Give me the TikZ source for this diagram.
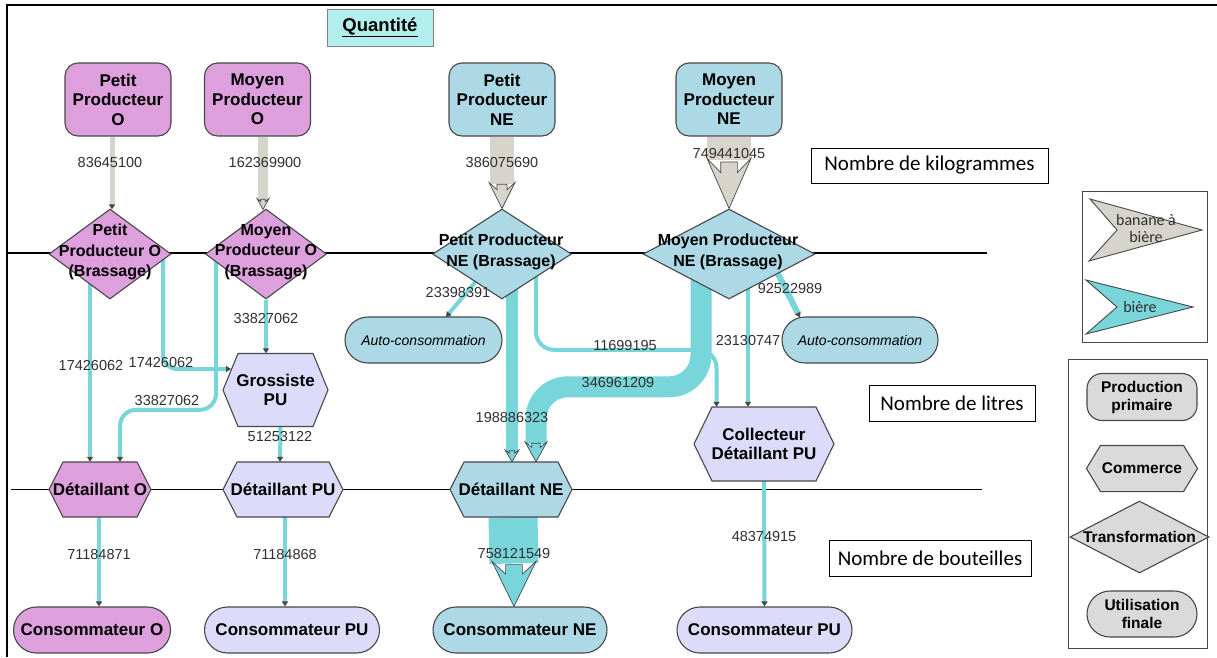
\documentclass[tikz,border=0pt]{standalone}
\usepackage{fontspec}
\setmainfont{Liberation Sans}
\newfontfamily\calibrifont{Carlito}
\usetikzlibrary{shapes.geometric,shapes.misc,arrows.meta,calc}

\pgfdeclarelayer{rules}
\pgfdeclarelayer{flows}
\pgfdeclarelayer{hexes}
\pgfsetlayers{rules,flows,hexes,main}

\definecolor{plumO}{HTML}{DDA0DD}
\definecolor{blueNE}{HTML}{ADD8E6}
\definecolor{lavPU}{HTML}{DCDCFA}
\definecolor{legGray}{HTML}{DADADA}
\definecolor{beer}{HTML}{78D5D9}
\definecolor{banana}{HTML}{D6D5CC}
\definecolor{edge}{HTML}{484848}
\definecolor{quant}{HTML}{B2EEEE}
\definecolor{numcol}{HTML}{303030}

\tikzset{
  outline/.style={draw=edge, line width=1.1pt},
  nodetext/.style={font=\fontsize{17}{19.5}\selectfont\bfseries, align=center, inner sep=0pt, text=black},
  prod/.style={nodetext, outline, rectangle, rounded corners=13pt, minimum width=106pt, minimum height=73pt},
  brew/.style={outline, diamond, inner sep=0pt, minimum width=#1, minimum height=90pt},
  brewtext/.style={font=\fontsize{16}{20.5}\selectfont\bfseries, align=center, inner sep=0pt},
  final/.style={nodetext, outline, rounded rectangle, minimum height=46pt},
  hextext/.style={nodetext, rectangle},
  autocons/.style={outline, rounded rectangle, fill=blueNE, minimum height=46pt, inner sep=0pt,
    font=\fontsize{14}{16}\selectfont\itshape},
  num/.style={font=\fontsize{14.5}{16}\selectfont, text=numcol, inner sep=0pt},
  unitbox/.style={draw=black, line width=0.9pt, inner sep=0pt,
    font=\calibrifont\fontsize{21}{24}\selectfont},
  legshape/.style={outline, fill=legGray, inner sep=0pt, align=center,
    font=\fontsize{15.5}{18}\selectfont\bfseries},
  legtext/.style={font=\calibrifont\fontsize{16}{17}\selectfont, align=center, inner sep=0pt, text=numcol},
  tip/.style={-{Triangle[length=5pt,width=6pt,color=edge]}},
  beerthin/.style={draw=beer, line width=4pt, tip},
  beerband/.style={draw=beer},
  banband/.style={draw=banana},
}

% hexagonal "Commerce" node: name, position, full width, height, inset, fill, text
% (the outline is built around the centre, so long labels may overhang it)
\newcommand\hexnode[7]{%
  \node[hextext, minimum height=#4] (#1) at #2 {#7};
  \begin{pgfonlayer}{hexes}
    \draw[outline, fill=#6]
      ($(#1)+({-(#3/2-#5)},{-#4/2})$) -- ($(#1)+({#3/2-#5},{-#4/2})$) -- ($(#1)+({#3/2},0)$)
      -- ($(#1)+({#3/2-#5},{#4/2})$) -- ($(#1)+({-(#3/2-#5)},{#4/2})$) -- ($(#1)+({-#3/2},0)$) -- cycle;
  \end{pgfonlayer}}

% notched arrow head for wide flows: tip, half width, length, fill
\newcommand\flowhead[4]{%
  \filldraw[fill=#4, draw=edge, line width=0.7pt, line join=miter]
    ($#1+(-#2,-#3)$) -- #1 -- ($#1+(#2,-#3)$) -- ($#1+(0.38*#2,-0.72*#3)$)
    -- ($#1+(0.38*#2,-0.93*#3)$) -- ($#1+(-0.38*#2,-0.93*#3)$)
    -- ($#1+(-0.38*#2,-0.72*#3)$) -- cycle;}

\begin{document}
\begin{tikzpicture}[x=1pt,y=-1pt]
\useasboundingbox (0,0) rectangle (1217,657);

% paper and level rules
\begin{pgfonlayer}{rules}
  \fill[white] (0,0) rectangle (1217,657);
  \draw[black, line width=1.3pt] (7,253) -- (987,253);
  \draw[black, line width=1.3pt] (11,489.5) -- (982,489.5);
\end{pgfonlayer}

% frame
\draw[black, line width=2pt] (7,657) -- (7,5) -- (1217,5);

% title
\node[draw=gray, line width=1pt, fill=quant, minimum width=106pt, minimum height=37pt, inner sep=0pt,
  font=\fontsize{18.5}{21}\selectfont\bfseries] (qty) at (380,27.5) {\underline{Quantité}};

% primary producers
\node[prod, fill=plumO] (ppo) at (118,99.5) {Petit\\Producteur\\O};
\node[prod, fill=plumO] (mpo) at (257.5,99.5) {Moyen\\Producteur\\O};
\node[prod, fill=blueNE] (ppne) at (502,99.5) {Petit\\Producteur\\NE};
\node[prod, fill=blueNE] (mpne) at (729,99.5) {Moyen\\Producteur\\NE};

% brewing
\node[brew=122pt, fill=plumO] (ppob) at (110,254) {};
\node[brewtext] (ppobt) at (110,252) {Petit\\Producteur O\\(Brassage)};
\node[brew=121pt, fill=plumO] (mpob) at (266,254) {};
\node[brewtext] (mpobt) at (266,252) {Moyen\\Producteur O\\(Brassage)};
\node[brew=139pt, fill=blueNE] (ppneb) at (502,254) {};
\node[brewtext] (ppnebt) at (501,252) {Petit Producteur\\NE (Brassage)};
\node[brew=172pt, fill=blueNE] (mpneb) at (729,254) {};
\node[brewtext] (mpnebt) at (728,252) {Moyen Producteur\\NE (Brassage)};

% trade
\hexnode{gros}{(275.5,390)}{105}{73}{15}{lavPU}{Grossiste\\PU}
\hexnode{deto}{(100,489.5)}{102}{55}{14}{plumO}{Détaillant O}
\hexnode{detpu}{(283,489.5)}{120}{55}{14}{lavPU}{Détaillant PU}
\hexnode{detne}{(511,489.5)}{122}{55}{14}{blueNE}{Détaillant NE}
\hexnode{coll}{(764,444)}{140}{74}{18}{lavPU}{Collecteur\\Détaillant PU}

% final use
\node[final, fill=plumO, minimum width=157pt] (conso) at (92,630) {Consommateur O};
\node[final, fill=lavPU, minimum width=175pt] (conspua) at (292,630) {Consommateur PU};
\node[final, fill=blueNE, minimum width=174pt] (consne) at (520,630) {Consommateur NE};
\node[final, fill=lavPU, minimum width=175pt] (conspub) at (764.5,630) {Consommateur PU};
\node[autocons, minimum width=157pt] (autoa) at (423.5,340) {Auto-consommation};
\node[autocons, minimum width=156pt] (autob) at (860,340) {Auto-consommation};

% units
\node[unitbox, minimum width=237pt, minimum height=35pt] (ukg) at (929.5,165.5) {Nombre de kilogrammes};
\node[unitbox, minimum width=166pt, minimum height=36pt] (ul) at (952,403) {Nombre de litres};
\node[unitbox, minimum width=202pt, minimum height=36pt] (ub) at (930,558) {Nombre de bouteilles};

% legend: products
\node[draw=edge, line width=1pt, minimum width=125pt, minimum height=151pt, inner sep=0pt] (legp) at (1144.5,266.5) {};
\filldraw[fill=banana, draw=edge, line width=0.9pt, line join=miter]
  (1090,199) -- (1202,230) -- (1089,261) -- (1117,230) -- cycle;
\node[legtext] (legban) at (1146,228) {banane à\\bière};
\filldraw[fill=beer, draw=edge, line width=0.9pt, line join=miter]
  (1086,280) -- (1193,307) -- (1086,334) -- (1117,307) -- cycle;
\node[legtext] (legbeer) at (1140,307) {bière};

% legend: stages
\node[draw=edge, line width=1pt, minimum width=139pt, minimum height=289pt, inner sep=0pt] (legs) at (1137.5,503.5) {};
\node[legshape, rectangle, rounded corners=15pt, minimum width=110pt, minimum height=47pt] (lprod) at (1142,397) {Production\\primaire};
\node[legshape, draw=none, fill=none, minimum width=82pt, minimum height=45pt] (lcom) at (1142,468.5) {Commerce};
\begin{pgfonlayer}{hexes}
  \draw[outline, fill=legGray] (lcom.north west) -- (lcom.north east) -- ($(lcom.east)+(14,0)$)
    -- (lcom.south east) -- (lcom.south west) -- ($(lcom.west)+(-14,0)$) -- cycle;
\end{pgfonlayer}
\node[legshape, diamond, minimum width=139pt, minimum height=72pt] (ltr) at (1139.5,537) {};
\node[legshape, draw=none, fill=none] (ltrt) at (1139.5,537) {Transformation};
\node[legshape, rounded rectangle, minimum width=110pt, minimum height=46pt] (lut) at (1142,614) {Utilisation\\finale};

% flows
\coordinate (tmpo) at ($(mpob.north)+(-3,1)$);
\coordinate (tppne) at (ppneb.north);
\coordinate (tmpne) at (mpneb.north);
\coordinate (tppdet) at ($(detne.north)+(1,0)$);
\coordinate (tmpdet) at ($(detne.north)+(25,0)$);
\coordinate (tdetne) at ($(consne.north)+(-6,0)$);
\begin{pgfonlayer}{flows}
  % banana, kilograms
  \draw[banband, line width=5pt, tip] ($(ppo.south)+(-6,0)$) -- ($(ppob.north)+(2,1)$);
  \draw[banband, line width=10pt] ($(mpo.south)+(5.5,0)$) -- ($(tmpo)+(0,-9)$);
  \flowhead{(tmpo)}{6}{11}{banana}
  \draw[banband, line width=24pt] (ppne.south) -- ($(tppne)+(0,-24)$);
  \flowhead{(tppne)}{13}{26}{banana}
  \draw[banband, line width=44pt] (mpne.south) -- ($(tmpne)+(0,-48)$);
  \flowhead{(tmpne)}{22}{50}{banana}
  % beer, litres
  \draw[beerthin] ($(ppob)+(-20,0)$) -- ($(deto.north)+(-10,0)$);
  \draw[beerthin, rounded corners=14pt] ($(ppob)+(53,0)$) |- ($(gros)+(-44.5,-21)$);
  \draw[beerthin, rounded corners=16pt] ($(mpob)+(-50,0)$) |- ($(deto.north)+(20,-52)$) -- ($(deto.north)+(20,0)$);
  \draw[beerthin] (mpob) -- ($(gros.north)+(-9.5,0)$);
  \draw[beerthin] ($(gros.south)+(5,0)$) -- ($(detpu.north)+(-3,0)$);
  \draw[beerthin] ($(ppneb)+(-20,20)$) -- ($(autoa)+(22.5,-23)$);
  \draw[beerband, line width=12pt] ($(ppneb)+(10,0)$) -- ($(tppdet)+(0,-10)$);
  \flowhead{(tppdet)}{7}{12}{beer}
  \draw[beerthin, rounded corners=18pt] ($(ppneb)+(34,0)$) |- ($(coll.north)+(-47.5,-57)$) -- ($(coll.north)+(-47.5,0)$);
  \draw[beerband, line width=21pt, rounded corners=32pt] ($(mpneb)+(-28,0)$) |- ($(tmpdet)+(0,-75)$) -- ($(tmpdet)+(0,-18)$);
  \flowhead{(tmpdet)}{11}{20}{beer}
  \draw[beerthin] ($(mpneb)+(19,0)$) -- ($(coll.north)+(-16,0)$);
  \draw[beerthin, line width=6pt] ($(mpneb)+(44,10)$) -- ($(autob)+(-60,-22.5)$);
  % bottles
  \draw[beerthin] ($(deto.south)+(-1,0)$) -- ($(conso.north)+(7,0)$);
  \draw[beerthin] ($(detpu.south)+(2,0)$) -- ($(conspua.north)+(-7,0)$);
  \draw[beerband, line width=49pt] ($(detne.south)+(2,0)$) -- ($(tdetne)+(0,-43)$);
  \flowhead{(tdetne)}{22}{45}{beer}
  \draw[beerthin] (coll.south) -- (conspub.north);
\end{pgfonlayer}

% flow quantities
\node[num] (q1) at (110,163) {83645100};
\node[num] (q2) at (265,163) {162369900};
\node[num] (q3) at (502,163) {386075690};
\node[num] (q4) at (729,154) {749441045};
\node[num] (q5) at (91,365) {17426062};
\node[num] (q6) at (161,362) {17426062};
\node[num] (q7) at (167,400) {33827062};
\node[num] (q8) at (266,318) {33827062};
\node[num] (q9) at (280,436) {51253122};
\node[num] (q10) at (99,554) {71184871};
\node[num] (q11) at (285,554) {71184868};
\node[num] (q12) at (458,292) {23398391};
\node[num] (q13) at (512,417) {198886323};
\node[num] (q14) at (625,345) {11699195};
\node[num] (q15) at (618,382) {346961209};
\node[num] (q16) at (748,340) {23130747};
\node[num] (q17) at (790,288) {92522989};
\node[num] (q18) at (514,553) {758121549};
\node[num] (q19) at (764,536) {48374915};
\end{tikzpicture}
\end{document}
